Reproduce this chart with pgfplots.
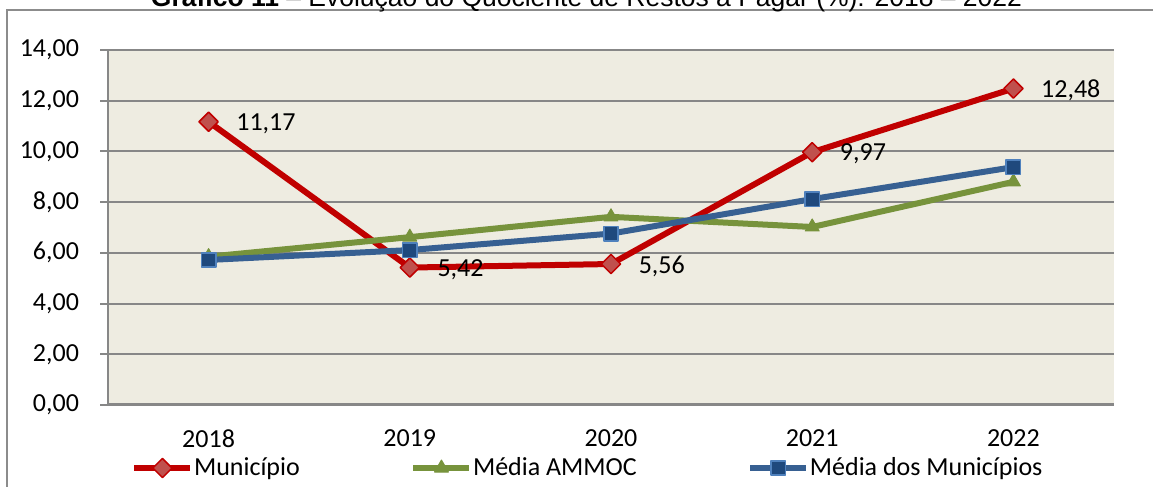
\documentclass[border=0pt]{standalone}
\usepackage{pgfplots}
\pgfplotsset{compat=1.18}
\usepackage{fontspec}
\setmainfont{Carlito}
\newfontfamily\arialfont{Liberation Sans}
\definecolor{redline}{HTML}{C00000}
\definecolor{redfill}{HTML}{C0504D}
\definecolor{greenline}{HTML}{77933C}
\definecolor{blueline}{HTML}{376092}
\definecolor{bluefill}{HTML}{1F497D}
\definecolor{blueedge}{HTML}{4F81BD}
\definecolor{bgc}{HTML}{EEECE1}
\definecolor{gridc}{HTML}{878787}
\definecolor{framec}{HTML}{8C8C8C}
\begin{document}
\begin{tikzpicture}[x=0.5pt,y=0.5pt]
\clip (0,0) rectangle (1153,487);
\path[use as bounding box] (0,0) rectangle (1153,487);
\draw[framec, line width=1pt] (7,-5) -- (7,477) -- (1160,477);
\node[anchor=base, inner sep=0pt] at (586.5,480.5) {\resizebox{435.5pt}{!}{\arialfont\textbf{Gráfico 11} – Evolução do Quociente de Restos a Pagar (\%): 2018 – 2022}};
\begin{axis}[
  at={(54pt,41pt)}, anchor=south west,
  scale only axis, width=503pt, height=177.5pt,
  xmin=2017.5, xmax=2022.5, ymin=0, ymax=14,
  xtick={2018,2019,2020,2021,2022},
  xticklabels={2018,2019,2020,2021,2022},
  ytick={0,2,...,14},
  yticklabel style={xshift=-7pt, /pgf/number format/.cd, fixed, fixed zerofill, precision=2, use comma},
  xticklabel style={yshift=-5pt},
  /pgf/number format/assume math mode=true,
  axis background/.style={fill=bgc},
  axis x line*=bottom, axis y line*=left,
  x axis line style={gridc, line width=1.5pt},
  y axis line style={gridc, line width=1pt},
  ymajorgrids, grid style={gridc, line width=1pt},
  tick align=outside,
  xtick style={draw=none},
  ytick style={gridc, line width=1pt},
  major tick length=4pt,
  tick label style={font=\fontsize{13}{15}\selectfont, text=black},
  legend style={at={(0.0229,-0.1775)}, anchor=west, draw=none, fill=none, inner sep=0pt,
    font=\fontsize{13}{15}\selectfont, nodes={inner xsep=0.3pt},
    /tikz/every even column/.append style={column sep=55pt}},
  legend columns=3,
  legend cell align=left,
  legend image code/.code={\draw[#1, mark repeat=2, mark phase=2] plot coordinates {(0pt,0pt) (14pt,0pt) (28pt,0pt)};},
  every axis plot/.append style={line join=round},
]
\addplot[redline, line width=3pt, mark=square*, mark size=3.4pt,
  mark options={rotate=45, fill=redfill, draw=redline, line width=0.75pt},
  nodes near coords, nodes near coords align=horizontal,
  every node near coord/.append style={text=black, inner sep=0pt, xshift=13.5pt, yshift=-1pt,
    font=\fontsize{13}{15}\selectfont,
    /pgf/number format/.cd, fixed, fixed zerofill, precision=2, use comma, assume math mode=true}]
  coordinates {(2018,11.17) (2019,5.42) (2020,5.56) (2021,9.97) (2022,12.48)};
\addlegendentry{Município}
\addplot[greenline, line width=3pt, mark=triangle*, mark size=4pt,
  mark options={fill=greenline, draw=greenline, line width=0.5pt}]
  coordinates {(2018,5.85) (2019,6.62) (2020,7.42) (2021,7.02) (2022,8.80)};
\addlegendentry{Média AMMOC}
\addplot[blueline, line width=3pt, mark=square*, mark size=3.6pt,
  mark options={fill=bluefill, draw=blueedge, line width=0.75pt}]
  coordinates {(2018,5.72) (2019,6.11) (2020,6.76) (2021,8.12) (2022,9.38)};
\addlegendentry{Média dos Municípios}
\end{axis}
\end{tikzpicture}
\end{document}
